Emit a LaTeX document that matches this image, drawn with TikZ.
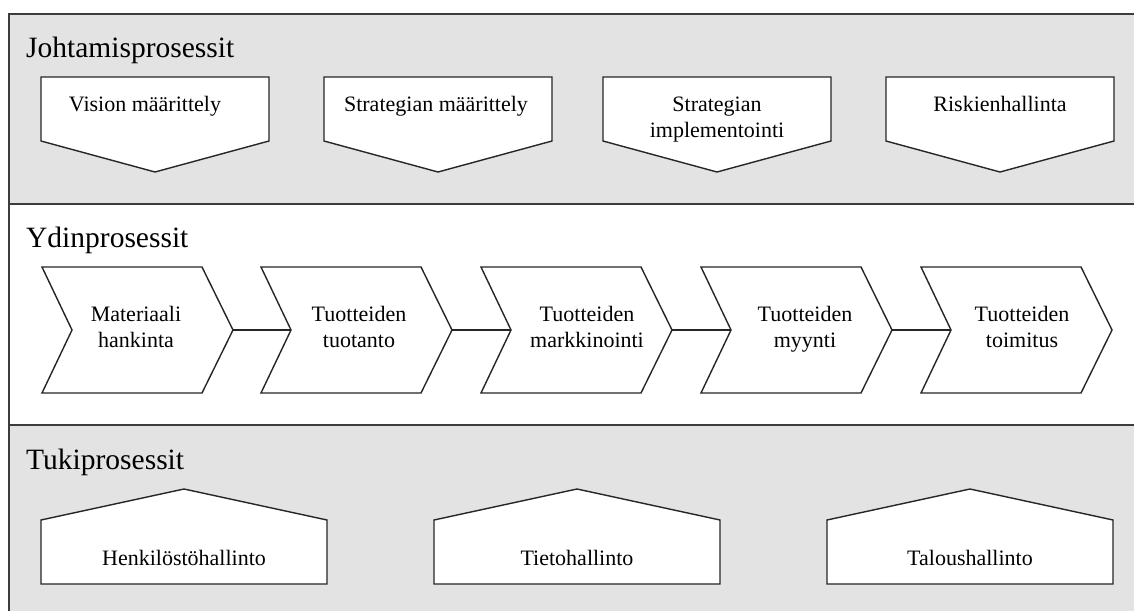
\documentclass[tikz,border=0pt]{standalone}
\usepackage{fontspec}
\setmainfont{Liberation Serif}
\definecolor{bandgray}{HTML}{E3E3E3}
\definecolor{framegray}{HTML}{3C3C3C}
\definecolor{inkline}{HTML}{262626}
\begin{document}
\begin{tikzpicture}[x=1pt,y=-1pt,
  frameline/.style={draw=framegray,line width=2pt},
  shapeline/.style={draw=inkline,line width=1.4pt,fill=white,line join=miter},
  link/.style={draw=inkline,line width=1.4pt},
  title/.style={anchor=base west,inner sep=0pt,font=\fontsize{29.5}{34}\selectfont},
  label/.style={anchor=base,inner sep=0pt,align=center,font=\fontsize{22}{26}\selectfont},
  % management process: box with a downward point
  downbox/.pic={
    \path[shapeline] (0,0) -- (228,0) -- (228,64) -- (114,95) -- (0,64) -- cycle;
  },
  % core process: chevron pointing right
  chevron/.pic={
    \path[shapeline] (0,0) -- (160,0) -- (191,63) -- (160,126) -- (0,126) -- (30,63) -- cycle;
    \coordinate (-tip) at (191,63);
    \coordinate (-notch) at (30,63);
  },
  % support process: house shape
  house/.pic={
    \path[shapeline] (0,31) -- (143,0) -- (286,31) -- (286,95) -- (0,95) -- cycle;
  }]
\useasboundingbox (0,0) rectangle (1134,610);
\clip (0,0) rectangle (1134,610);

% bands of the process map
\fill[bandgray] (9,14) rectangle (1150,204);
\fill[white] (9,204) rectangle (1150,425);
\fill[bandgray] (9,425) rectangle (1150,630);
\draw[frameline] (1150,14) -- (9,14) -- (9,630);
\draw[frameline] (9,204) -- (1150,204);
\draw[frameline] (9,425) -- (1150,425);

% band titles
\node[title] (tJ) at (26,58) {Johtamisprosessit};
\node[title] (tY) at (26,247) {Ydinprosessit};
\node[title] (tT) at (26,469) {Tukiprosessit};

% management processes
\pic (d1) at (41,77) {downbox};
\pic (d2) at (324,77) {downbox};
\pic (d3) at (603,77) {downbox};
\pic (d4) at (886,77) {downbox};
\node[label] (vis) at (145,111) {Vision määrittely};
\node[label] (strm) at (436,111) {Strategian määrittely};
\node[label] (stri) at (717,137) {Strategian\\implementointi};
\node[label] (risk) at (1000,111) {Riskienhallinta};

% core processes
\pic (c1) at (42,267) {chevron};
\pic (c2) at (261,267) {chevron};
\pic (c3) at (481,267) {chevron};
\pic (c4) at (701,267) {chevron};
\pic (c5) at (921,267) {chevron};
\draw[link] (c1-tip) -- (c2-notch);
\draw[link] (c2-tip) -- (c3-notch);
\draw[link] (c3-tip) -- (c4-notch);
\draw[link] (c4-tip) -- (c5-notch);
\node[label] (mat) at (136,347) {Materiaali\\hankinta};
\node[label] (tuo) at (359,347) {Tuotteiden\\tuotanto};
\node[label] (mar) at (587,347) {Tuotteiden\\markkinointi};
\node[label] (myy) at (805,347) {Tuotteiden\\myynti};
\node[label] (toi) at (1022,347) {Tuotteiden\\toimitus};

% support processes
\pic (h1) at (41,489) {house};
\pic (h2) at (434,489) {house};
\pic (h3) at (827,489) {house};
\node[label] (hen) at (184,565) {Henkilöstöhallinto};
\node[label] (tie) at (577,565) {Tietohallinto};
\node[label] (tal) at (970,565) {Taloushallinto};
\end{tikzpicture}
\end{document}
